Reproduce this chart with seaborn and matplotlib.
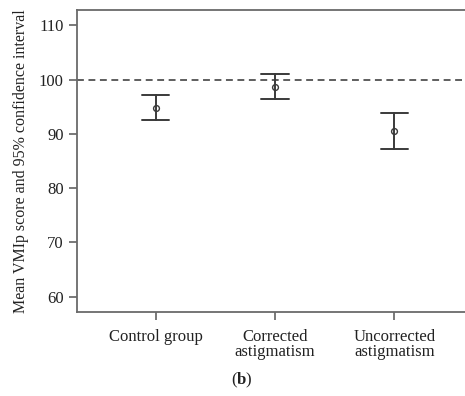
import matplotlib
matplotlib.use("Agg")
import matplotlib.pyplot as plt
import seaborn as sns
import pandas as pd
import numpy as np

groups = ["Control group", "Corrected\nastigmatism", "Uncorrected\nastigmatism"]
means = [94.8, 98.7, 90.5]
ci_low = [92.5, 96.4, 87.2]
ci_high = [97.2, 101.1, 93.9]
reference = 100
yticks = [60, 70, 80, 90, 100, 110]

rows = []
for g, lo, m, hi in zip(groups, ci_low, means, ci_high):
    for v in (lo, m, hi):
        rows.append({"group": g, "value": v})
df = pd.DataFrame(rows)

sns.set_style("white")
plt.rcParams["font.family"] = ["Liberation Serif", "DejaVu Serif"]
plt.rcParams["mathtext.fontset"] = "custom"
plt.rcParams["mathtext.rm"] = "Liberation Serif"
plt.rcParams["mathtext.bf"] = "Liberation Serif:bold"

fig = plt.figure(figsize=(4.65, 3.96), dpi=100)
ax = fig.add_axes([77/465, 1-312/396, (473-77)/465, (312-10)/396])

sns.pointplot(data=df, x="group", y="value", order=groups,
              estimator=np.median,
              errorbar=lambda x: (np.min(x), np.max(x)),
              color="#3a3a3a", markers="o", linestyles="none",
              capsize=0.23, err_kws={"linewidth": 1.4},
              markersize=4.2, markerfacecolor="none", markeredgewidth=1.0,
              ax=ax)

ax.axhline(reference, color="#333333", linestyle=(0, (4.5, 3)), linewidth=1.1, zorder=0)

ax.set_ylim(57.2, 112.8)
ax.set_xlim(-0.66, 2.66)
ax.set_yticks(yticks)
ax.set_xlabel("")
ax.set_ylabel("Mean VMIp score and 95% confidence interval", fontsize=11.5, color="#222222", labelpad=7)

for s in ["left", "bottom", "top"]:
    ax.spines[s].set_visible(True)
    ax.spines[s].set_color("#6a6a6a")
    ax.spines[s].set_linewidth(1.3)
ax.spines["right"].set_visible(False)

ax.tick_params(axis="both", which="major", length=6, width=1.1, color="#555555",
               labelsize=12, labelcolor="#222222", direction="out", left=True, bottom=True)
ax.tick_params(axis="x", pad=6)
for lab in ax.get_xticklabels():
    lab.set_linespacing(0.95)

fig.text(242/465, 1-380/396, "($\\mathbf{b}$)", ha="center", va="center", fontsize=12, color="#222222")

fig.savefig("out.png", dpi=100)
